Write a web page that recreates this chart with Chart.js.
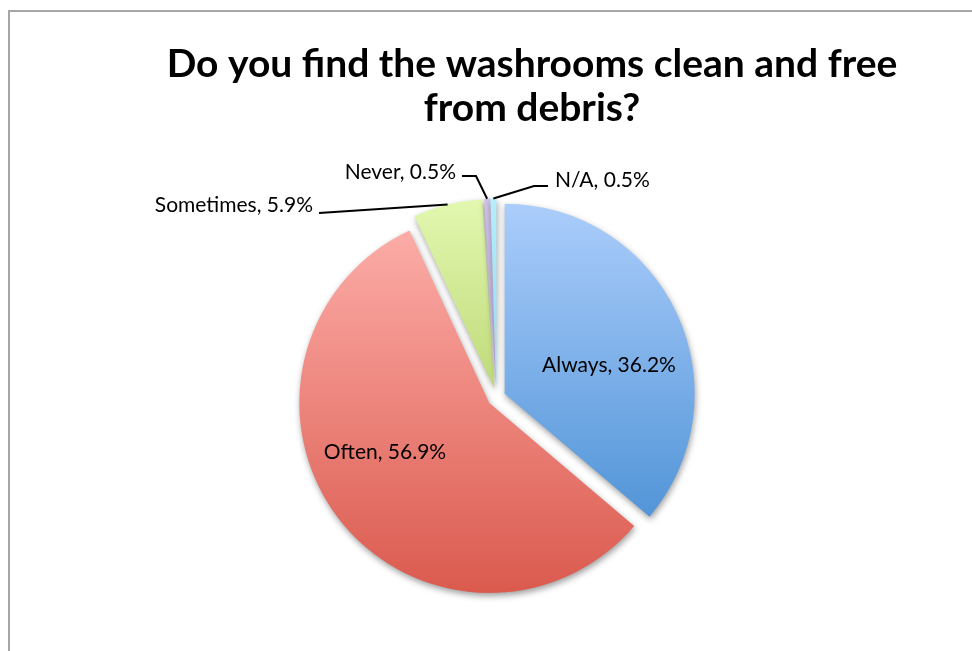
<!DOCTYPE html>
<html>
<head>
<meta charset="utf-8">
<title>Washroom survey</title>
<script src="https://cdn.jsdelivr.net/npm/chart.js@4.4.1/dist/chart.umd.min.js"></script>
<style>
  html, body { margin: 0; padding: 0; background: #fff; overflow: hidden; }
  #frame {
    position: absolute; left: 8px; top: 10px;
    width: 1100px; height: 800px;
    border: 2px solid #a6a6a6; box-sizing: border-box;
  }
  #wrap { position: absolute; left: 0; top: 0; width: 972px; height: 651px; }
</style>
</head>
<body>
<div id="frame"></div>
<div id="wrap"><canvas id="pieChart"></canvas></div>
<script>
const titleLines = ["Do you find the washrooms clean and free", "from debris?"];
const labels = ["Always", "Often", "Sometimes", "Never", "N/A"];
const percents = [36.2, 56.9, 5.9, 0.5, 0.5];
const topColors = ["#abcdfb", "#fcaca7", "#e2f8b0", "#cfc1e8", "#b6eefb"];
const bottomColors = ["#5295d8", "#db5a4e", "#bfda79", "#b6a3d4", "#8cdbf2"];

const pieRadius = 190;
const explode = 9;
const labelFont = "21px Lato";
const titleFont = "bold 39px Lato";

// where each label goes: inside ones are centred on x, outside ones get a leader line
const labelSpots = [
  { x: 609, y: 372, align: "center" },
  { x: 385, y: 459, align: "center" },
  { x: 313, y: 212, align: "right", line: [[319, 213]] },
  { x: 456, y: 179, align: "right", line: [[476, 176], [462, 176]] },
  { x: 555, y: 187, align: "left", line: [[534, 186], [548, 186]] }
];

const total = percents.reduce((a, b) => a + b, 0);

function sliceAngles(i) {
  const before = percents.slice(0, i).reduce((a, b) => a + b, 0);
  const start = -Math.PI / 2 + 2 * Math.PI * before / total;
  const end = start + 2 * Math.PI * percents[i] / total;
  return { start, end, mid: (start + end) / 2 };
}

function spans(start, end, a) {
  return (a >= start && a <= end) || (a - 2 * Math.PI >= start && a - 2 * Math.PI <= end);
}

// vertical gradient over the height of each slice
function sliceGradient(ctx) {
  const chart = ctx.chart;
  const area = chart.chartArea;
  const i = ctx.dataIndex;
  if (!area) return bottomColors[i];
  const { start, end, mid } = sliceAngles(i);
  const cy = (area.top + area.bottom) / 2 + Math.sin(mid) * explode;
  const ys = [0, Math.sin(start), Math.sin(end)];
  if (spans(start, end, Math.PI / 2)) ys.push(1);
  if (spans(start, end, 3 * Math.PI / 2)) ys.push(-1);
  const top = cy + Math.min(...ys) * pieRadius;
  const bottom = cy + Math.max(...ys) * pieRadius;
  const g = chart.ctx.createLinearGradient(0, top, 0, bottom);
  g.addColorStop(0, topColors[i]);
  g.addColorStop(1, bottomColors[i]);
  return g;
}

// pull every slice out from the centre along its middle angle
const explodePlugin = {
  id: "explode",
  afterDatasetUpdate(chart, args) {
    args.meta.data.forEach(arc => {
      const mid = (arc.startAngle + arc.endAngle) / 2;
      arc.x += Math.cos(mid) * explode;
      arc.y += Math.sin(mid) * explode;
    });
  }
};

const shadowPlugin = {
  id: "pieShadow",
  beforeDatasetsDraw(chart) {
    const c = chart.ctx;
    c.save();
    c.shadowColor = "rgba(0,0,0,0.38)";
    c.shadowBlur = 6;
    c.shadowOffsetX = 1;
    c.shadowOffsetY = 3;
  },
  afterDatasetsDraw(chart) {
    chart.ctx.restore();
  }
};

const textPlugin = {
  id: "pieText",
  afterDraw(chart) {
    const c = chart.ctx;
    c.save();
    c.fillStyle = "#000";
    c.textBaseline = "alphabetic";

    c.font = titleFont;
    c.textAlign = "center";
    c.fillText(titleLines[0], 532, 77);
    c.fillText(titleLines[1], 532, 121);

    c.font = labelFont;
    const arcs = chart.getDatasetMeta(0).data;
    labelSpots.forEach((spot, i) => {
      const text = labels[i] + ", " + percents[i].toFixed(1) + "%";
      c.textAlign = spot.align;
      c.fillText(text, spot.x, spot.y);
      if (spot.line) {
        const arc = arcs[i];
        const mid = (arc.startAngle + arc.endAngle) / 2;
        c.beginPath();
        c.moveTo(arc.x + Math.cos(mid) * arc.outerRadius, arc.y + Math.sin(mid) * arc.outerRadius);
        spot.line.forEach(p => c.lineTo(p[0], p[1]));
        c.strokeStyle = "#000";
        c.lineWidth = 2;
        c.stroke();
      }
    });
    c.restore();
  }
};

new Chart(document.getElementById("pieChart"), {
  type: "pie",
  data: {
    labels: labels,
    datasets: [{
      data: percents,
      backgroundColor: sliceGradient,
      borderWidth: 0
    }]
  },
  options: {
    responsive: true,
    maintainAspectRatio: false,
    animation: false,
    radius: pieRadius,
    layout: { padding: { left: 31, right: 10, top: 160, bottom: 16 } },
    plugins: {
      legend: { display: false },
      title: { display: false },
      tooltip: { enabled: false }
    }
  },
  plugins: [explodePlugin, shadowPlugin, textPlugin]
});
</script>
</body>
</html>
